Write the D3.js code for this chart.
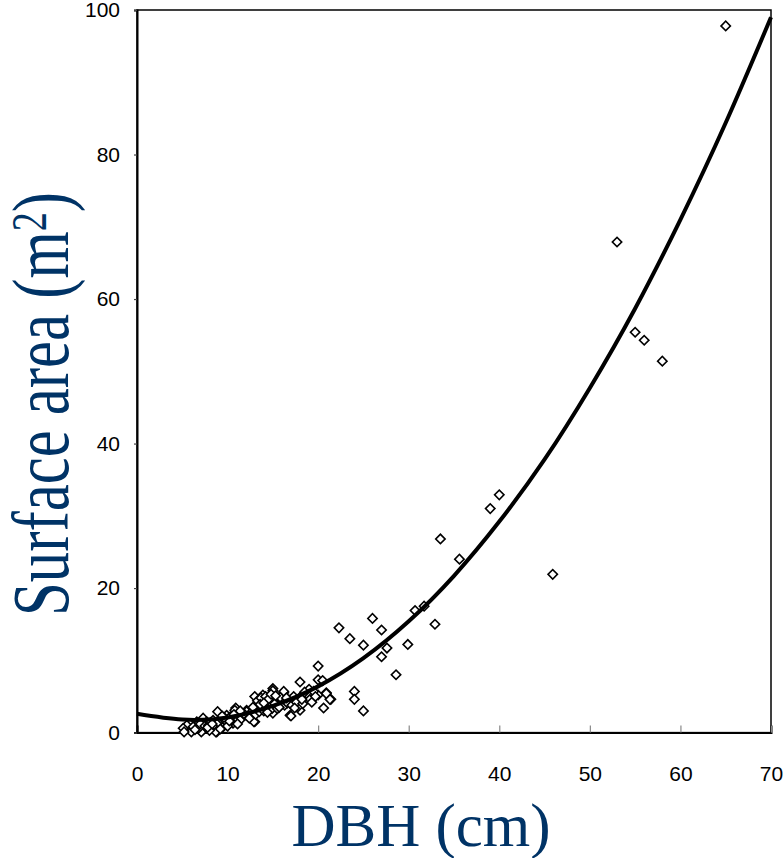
<!DOCTYPE html>
<html><head><meta charset="utf-8">
<script src="https://cdn.jsdelivr.net/npm/d3@7"></script>
<style>html,body{margin:0;padding:0;background:#fff;}svg{display:block;}</style>
</head><body>
<svg id="c" width="784" height="858"></svg>
<script>
const dbh = [65.0,53.0,55.0,56.0,58.0,45.9,40.0,39.0,33.5,35.6,31.7,30.7,32.9,29.9,26.0,27.0,22.3,23.5,25.0,27.6,27.0,28.6,20.0,24.0,24.0,25.0,
20.0,20.5,20.9,21.4,20.6,20.0,18.0,18.1,18.7,19.0,18.0,17.8,16.9,16.2,15.6,15.0,15.0,15.0,13.9,13.0,13.0,13.6,14.3,12.1,10.9,9.9,8.9,8.4,7.3,6.6,5.5,5.1,6.0,8.8,7.3,9.5,10.6,11.7,12.5,13.2,13.9,14.7,15.4,16.0,16.9,17.3,18.9,19.5,
5.2,7.1,8.7,6.6,7.7,9.9,10.8,12.1,12.9,16.2,17.0,19.1,21.3,20.9,
6.2,6.8,7.0,7.5,7.9,8.1,8.5,9.0,9.3,9.7,10.1,10.3,10.5,11.0,11.3,11.5,11.9,12.3,12.7,13.1,13.4,13.5,13.8,14.0,14.1,14.4,14.6,14.9,15.2,15.5,15.8,16.3,16.6,17.1,17.6,18.3,18.5,19.3,19.7,8.0,9.2,10.0,11.1,
13.3,13.7,14.2,14.5,14.8,13.6,14.0,14.4,12.8,12.4,11.8,11.4,10.7,10.2,9.6,15.3,15.7,16.5,17.4,18.2,6.4,7.8,8.3,9.4];
const area = [97.8,67.9,55.4,54.3,51.4,21.9,32.9,31.0,26.8,24.0,17.5,16.9,15.0,12.2,15.8,14.2,14.5,13.0,12.1,11.7,10.5,8.0,9.2,5.7,4.6,3.0,
7.3,7.2,5.5,4.6,3.4,5.2,7.0,5.0,4.6,6.0,3.1,3.6,2.4,5.5,4.5,6.1,5.8,2.7,5.2,5.0,1.5,4.1,3.6,3.1,3.4,2.4,2.9,1.7,2.0,1.5,1.0,0.6,0.1,0.1,0.4,0.8,1.3,2.2,2.7,3.1,3.4,3.6,3.8,4.5,4.5,5.0,5.2,5.7,
0.1,0.1,0.1,1.0,1.5,1.5,3.1,2.9,1.5,5.7,2.3,4.6,4.6,5.4,
0.8,0.6,1.2,0.9,1.0,1.4,1.1,1.4,1.9,1.7,1.9,2.2,1.8,2.0,2.5,1.9,2.4,2.2,2.9,2.5,3.6,2.9,4.5,3.0,4.8,3.1,4.3,3.3,4.0,3.3,4.9,3.8,4.1,3.8,4.2,4.0,5.6,4.2,5.0,0.3,0.5,0.9,1.2,
4.4,4.8,5.0,4.6,5.3,3.9,4.1,2.8,3.5,2.0,2.6,3.0,2.5,1.6,2.1,5.1,3.5,4.8,3.4,4.6,0.4,0.7,1.2,2.3];
const fitX = [0,5,10,15,20,25,30,35,40,45,50,55,60,65,70];
const fitY = [2.6,1.8,2.1,3.7,6.4,10.3,15.4,21.7,29.2,37.8,47.7,58.7,71.0,84.4,99.0];
const xTicks = [0,10,20,30,40,50,60,70];
const yTicks = [0,20,40,60,80,100];
const xTitle = "DBH (cm)";
const yTitle = "Surface area (m";

const svg = d3.select("#c");
const L = 137, T = 10, R = 771, B = 732.6;
const x = d3.scaleLinear().domain([0,70]).range([L,R]);
const y = d3.scaleLinear().domain([0,100]).range([B,T]);

// frame
svg.append("rect").attr("x",L).attr("y",T).attr("width",R-L).attr("height",B-T)
  .attr("fill","none").attr("stroke","#000").attr("stroke-width",1.5);

// x axis
const xa = svg.append("g").attr("transform",`translate(0,${B})`)
  .call(d3.axisBottom(x).tickValues(xTicks).tickSize(-7).tickPadding(33).tickFormat(d3.format("d")));
xa.select(".domain").attr("stroke","#000").attr("stroke-width",2);
xa.selectAll(".tick line").attr("stroke","#888").attr("stroke-width",1.2);
xa.selectAll(".tick text").attr("font-family","Liberation Sans, Arial, sans-serif").attr("font-size",21).attr("fill","#000");

const ya = svg.append("g").attr("transform",`translate(${L},0)`)
  .call(d3.axisLeft(y).tickValues(yTicks).tickSize(3).tickPadding(14).tickFormat(d3.format("d")));
ya.select(".domain").attr("stroke","#000").attr("stroke-width",2);
ya.selectAll(".tick line").attr("stroke","#444").attr("stroke-width",1.2);
ya.selectAll(".tick text").attr("font-family","Liberation Sans, Arial, sans-serif").attr("font-size",21).attr("fill","#000");

// points
const sym = d3.symbol().type(d3.symbolSquare).size(44);
svg.append("g").selectAll("path").data(dbh.map((d,i)=>[d,area[i]])).join("path")
  .attr("d",sym)
  .attr("transform",d=>`translate(${x(d[0])},${y(d[1])}) rotate(45)`)
  .attr("fill","#fff").attr("stroke","#000").attr("stroke-width",1.6);

// fit curve
const line = d3.line().x(d=>x(d[0])).y(d=>y(d[1])).curve(d3.curveNatural);
svg.append("path").datum(fitX.map((d,i)=>[d,fitY[i]]))
  .attr("d",line).attr("fill","none").attr("stroke","#000").attr("stroke-width",4);

// titles
svg.append("text").attr("x",(L+R)/2-33).attr("y",846).attr("text-anchor","middle")
  .attr("font-family","Liberation Serif, Times New Roman, serif").attr("font-size",61)
  .attr("fill","#003366").text(xTitle);

const yt = svg.append("text")
  .attr("transform","translate(68,404) rotate(-90) scale(0.76,1)")
  .attr("text-anchor","middle")
  .attr("font-family","Liberation Serif, Times New Roman, serif").attr("font-size",80)
  .attr("fill","#003366");
yt.append("tspan").text(yTitle);
yt.append("tspan").attr("font-size",50).attr("dy",-22).text("2");
yt.append("tspan").attr("dy",22).text(")");
</script>
</body></html>
